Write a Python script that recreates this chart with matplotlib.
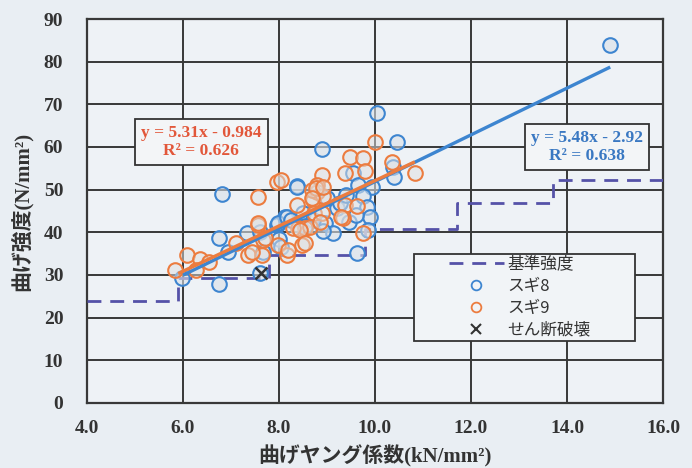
import numpy as np
import matplotlib
matplotlib.use('Agg')
import matplotlib.pyplot as plt
from matplotlib.patches import Rectangle
from matplotlib.lines import Line2D

plt.rcParams['font.family'] = ['Liberation Serif', 'Noto Sans CJK JP', 'DejaVu Sans']

# スギ8 (E, strength)
sugi8_e = [6.81, 6.74, 6.93, 5.97, 6.74, 7.33, 7.67, 7.95, 8.12, 7.97, 8.37, 8.16,
           7.60, 8.90, 10.04, 10.45, 9.55, 9.65, 9.93, 9.75, 9.83, 9.20, 9.90, 8.96,
           9.13, 9.62, 8.92, 10.38, 10.40, 8.38, 9.27, 14.90, 8.25, 8.50, 8.70, 9.45,
           9.60, 9.00, 8.00, 7.60, 8.05, 9.85, 9.40, 8.55]
sugi8_s = [49.1, 38.6, 35.5, 29.2, 27.9, 39.8, 35.4, 41.7, 43.7, 42.1, 50.9, 43.7,
           30.5, 59.5, 68.0, 61.2, 53.9, 51.1, 50.7, 48.4, 46.0, 45.6, 43.7, 42.2,
           39.8, 35.1, 40.2, 55.4, 53.0, 50.7, 46.9, 83.8, 42.8, 44.5, 43.0, 42.5,
           44.0, 48.0, 38.5, 40.0, 36.5, 40.5, 48.8, 41.5]

# スギ9 (E, strength)
sugi9_e = [6.08, 6.35, 6.27, 5.83, 7.57, 7.96, 7.56, 7.35, 7.64, 7.67, 7.98, 8.16,
           8.37, 8.70, 7.57, 8.40, 8.54, 7.70, 8.19, 8.48, 10.00, 9.48, 9.75, 9.79,
           9.38, 8.89, 8.80, 8.80, 8.68, 8.92, 9.38, 9.62, 8.72, 8.89, 9.34, 9.75,
           8.65, 10.35, 10.83, 8.05, 8.78, 8.92, 8.68, 8.30, 8.44, 8.85, 9.30, 8.54,
           7.43, 7.10, 6.55]
sugi9_s = [34.7, 33.7, 31.2, 31.2, 48.2, 51.9, 41.7, 34.7, 34.7, 38.2, 37.0, 34.7,
           46.4, 47.6, 42.2, 41.0, 41.0, 38.7, 35.9, 37.0, 61.2, 57.7, 57.4, 54.4,
           53.9, 53.4, 51.1, 49.5, 49.9, 48.4, 46.4, 46.2, 44.5, 44.5, 43.4, 39.8,
           41.3, 56.6, 54.0, 52.3, 50.3, 50.7, 48.0, 40.9, 40.5, 42.5, 43.7, 37.4,
           35.4, 37.5, 33.0]

# せん断破壊
shear_e = [7.62]
shear_s = [30.5]

# 基準強度 (step)
std_edges = [4.0, 5.9, 7.8, 9.8, 11.7, 13.7, 16.0]
std_values = [24.0, 29.4, 34.8, 40.8, 46.8, 52.2]

# regression lines
fit8 = (5.48, -2.92, 0.638)
fit9 = (5.31, -0.984, 0.626)
fit8_range = [6.0, 14.9]
fit9_range = [5.9, 10.83]

C_BLUE = '#3d85d0'
C_ORANGE = '#ec7c3f'
C_STD = '#5552a8'
C_GRID = '#383838'
BG = '#e9eef3'

fig = plt.figure(figsize=(6.92, 4.68), dpi=100, facecolor=BG)
ax = fig.add_axes([0.1257, 0.1389, 0.8324, 0.8205], facecolor='#eef2f6')

ax.set_xlim(4, 16)
ax.set_ylim(0, 90)
ax.set_xticks(np.arange(4, 16.1, 2))
ax.set_yticks(np.arange(0, 91, 10))
ax.set_xticklabels([f'{v:.1f}' for v in np.arange(4, 16.1, 2)])
ax.grid(True, color=C_GRID, lw=1.4)
ax.set_axisbelow(True)
for s in ax.spines.values():
    s.set_color(C_GRID)
    s.set_linewidth(1.6)
ax.tick_params(length=0, labelsize=14)
ax.tick_params(axis='x', pad=12)
ax.tick_params(axis='y', pad=17)
for lab in ax.get_xticklabels() + ax.get_yticklabels():
    lab.set_fontweight('bold')
    lab.set_color('#333333')

# step line of standard strength
sx = std_edges
sy = std_values + [std_values[-1]]
ax.step(sx, sy, where='post', color=C_STD, lw=2.0, ls=(0, (5, 3.2)), zorder=3)

mk = dict(marker='o', ms=10.5, ls='none', mew=1.5, zorder=4)
ax.plot(sugi8_e, sugi8_s, mfc=(0.85, 0.88, 0.91, 0.6), mec=C_BLUE, **mk)
ax.plot(sugi9_e, sugi9_s, mfc=(0.88, 0.88, 0.88, 0.5), mec=C_ORANGE, **mk)
ax.plot(shear_e, shear_s, marker='x', ms=9, mew=1.8, ls='none', color='#333333', zorder=6)

x8 = np.array(fit8_range)
x9 = np.array(fit9_range)
ax.plot(x8, fit8[0] * x8 + fit8[1], color=C_BLUE, lw=2.4, zorder=5, solid_capstyle='butt')
ax.plot(x9, fit9[0] * x9 + fit9[1], color=C_ORANGE, lw=2.4, zorder=5, solid_capstyle='butt')

box = dict(boxstyle='square,pad=0.35', fc='#f3f5f7', ec='#333333', lw=1.3)
ax.text(6.38, 61.2, f'y = {fit9[0]:.2f}x - {abs(fit9[1]):.3f}\nR² = {fit9[2]:.3f}',
        color='#e2573a', fontsize=12.5, fontweight='bold', ha='center', va='center',
        linespacing=1.15, bbox=box, zorder=7)
ax.text(14.42, 60.0, f'y = {fit8[0]:.2f}x - {abs(fit8[1]):.2f}\nR² = {fit8[2]:.3f}',
        color='#3a78c2', fontsize=12.5, fontweight='bold', ha='center', va='center',
        linespacing=1.15, bbox=box, zorder=7)

# legend with a wide frame
ax.add_patch(Rectangle((0.568, 0.161), 0.383, 0.227, transform=ax.transAxes,
                       fc='#f1f4f7', ec='#333333', lw=1.3, zorder=7))
handles = [
    Line2D([], [], color=C_STD, lw=2.0, ls=(0, (5, 3.2))),
    Line2D([], [], marker='o', ls='none', ms=7, mfc='none', mec=C_BLUE, mew=1.3),
    Line2D([], [], marker='o', ls='none', ms=7, mfc='none', mec=C_ORANGE, mew=1.3),
    Line2D([], [], marker='x', ls='none', ms=7, mew=1.5, color='#333333'),
]
labels = ['基準強度', 'スギ8', 'スギ9', 'せん断破壊']
leg = ax.legend(handles, labels, loc='upper left', bbox_to_anchor=(0.628, 0.384),
                frameon=False, handlelength=3.3, handletextpad=0.2, labelspacing=0.3,
                borderpad=0, borderaxespad=0,
                prop={'family': ['Noto Sans CJK JP'], 'size': 12})
leg.set_zorder(8)
for t in leg.get_texts():
    t.set_color('#333333')

lab_font = ['Liberation Serif', 'Noto Sans CJK JP']
ax.set_xlabel('曲げヤング係数(kN/mm²)', family=lab_font, fontsize=15,
              fontweight='bold', color='#333333', labelpad=6)
ax.set_ylabel('曲げ強度(N/mm²)', family=lab_font, fontsize=15,
              fontweight='bold', color='#333333', labelpad=8)

fig.savefig('out.png', dpi=100, facecolor=BG)
